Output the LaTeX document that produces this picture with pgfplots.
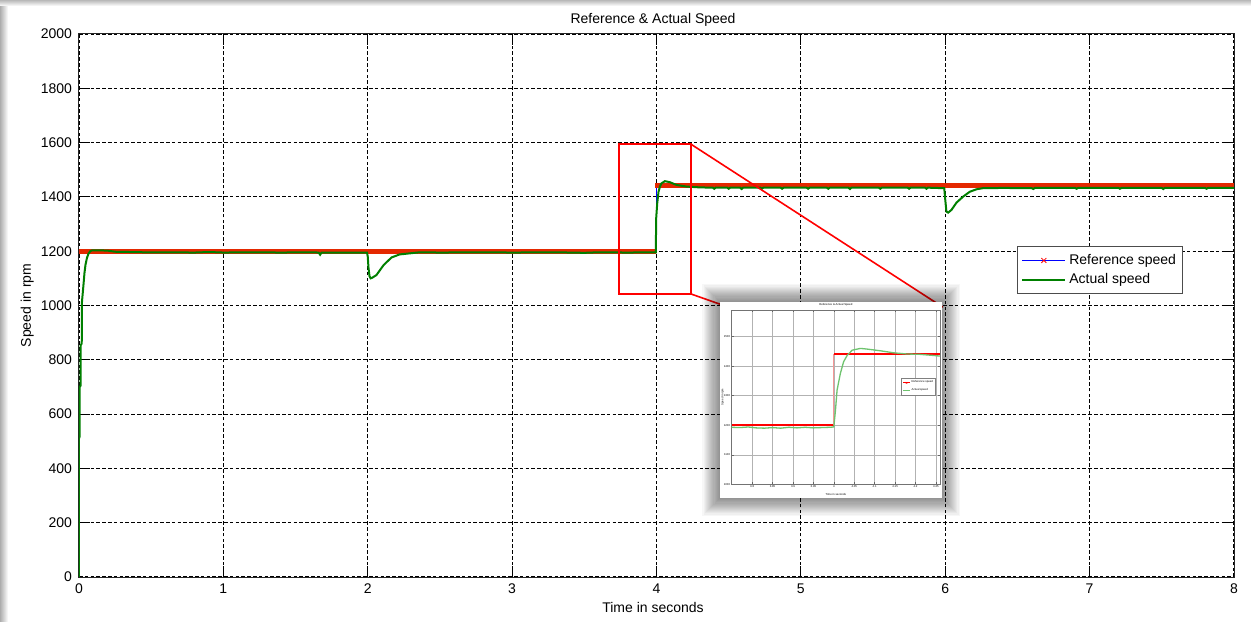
\documentclass[border=0pt]{standalone}
\usepackage{fontspec}
\setmainfont{Liberation Sans}
\usepackage{pgfplots}
\pgfplotsset{compat=1.18, every axis title shift=0pt}

\definecolor{mlgreen}{RGB}{0,128,0}
\definecolor{refband}{RGB}{228,40,0}
\definecolor{lightgreen}{RGB}{110,195,110}
\definecolor{lightred}{RGB}{245,150,150}

\newcommand{\mainfont}{\fontsize{7}{8.4}\selectfont}
\newcommand{\tinyfont}{\fontsize{1.4}{1.7}\selectfont}

\begin{document}
\begin{tikzpicture}
% figure window background, with a soft shadow along the top and left edges
\fill[white] (0,0) rectangle (625.5pt,310.5pt);
\shade[left color=black!32, right color=white] (0,0) rectangle (4pt,310.5pt);
\shade[top color=black!28, bottom color=white] (0,307.5pt) rectangle (625.5pt,310.5pt);

\begin{axis}[
  at={(39.5pt,22pt)}, anchor=south west,
  scale only axis, width=577.5pt, height=271.5pt,
  xmin=0, xmax=8, ymin=0, ymax=2000,
  xtick={0,1,...,8}, ytick={0,200,...,2000},
  tick align=inside, xtick pos=both, ytick pos=both,
  major tick length=5.5pt,
  tick style={black, line width=0.5pt},
  axis line style={black!85, line width=0.5pt},
  grid=major,
  major grid style={black, line width=0.55pt, dash pattern=on 1.8pt off 1.1pt},
  ticklabel style={font=\mainfont},
  /pgf/number format/assume math mode=true,
  /pgf/number format/1000 sep={},
  title={Reference \& Actual Speed},
  title style={font=\mainfont, at={(axis description cs:0.497,1.0193)}, anchor=base},
  xlabel={Time in seconds},
  xlabel style={font=\mainfont, at={(axis description cs:0.497,-0.0645)}, anchor=base},
  ylabel={Speed in rpm},
  ylabel style={font=\mainfont, at={(axis description cs:-0.0416,0.5)}, anchor=base},
  legend cell align=left,
  legend style={at={(axis description cs:0.812,0.6096)}, anchor=north west,
    draw=black!70, line width=0.5pt, fill=white, font=\mainfont,
    inner xsep=2pt, inner ysep=2.2pt, row sep=0pt, nodes={inner sep=1.5pt}},
]
% reference speed: blue line with dense red x markers (the markers form the thick band)
\addplot[blue, line width=0.5pt,
  legend image code/.code={
    \draw[blue, line width=0.6pt] (0pt,0pt) -- (21.5pt,0pt);
    \draw[red, line width=0.4pt] (9.5pt,-1.2pt) -- (12pt,1.2pt) (9.5pt,1.2pt) -- (12pt,-1.2pt);
  }] coordinates {(0,1200) (4,1200) (4,1440) (8,1440)};
\addlegendentry{Reference speed}
\addplot[refband, line width=2.6pt, forget plot] coordinates {(0,1200) (3.998,1200)};
\addplot[refband, line width=2.6pt, forget plot] coordinates {(3.99,1441) (8,1441)};

% measured rotor speed
\addplot[mlgreen, line width=1pt,
  legend image code/.code={
    \draw[mlgreen, line width=1pt] (0pt,0pt) -- (21.5pt,0pt);
  }] coordinates {
  (0,0) (0,510) (0.004,517) (0.005,700) (0.011,705) (0.012,854) (0.019,860)
  (0.02,1010) (0.03,1070) (0.038,1120) (0.045,1150) (0.055,1175) (0.065,1190)
  (0.078,1200) (0.09,1203) (0.15,1203) (0.2,1202) (0.25,1198) (0.35,1197)
  (0.45,1196) (0.6,1196) (0.8,1195) (0.9,1197) (1.0,1195) (1.2,1196) (1.4,1195)
  (1.6,1196) (1.66,1195) (1.67,1187) (1.68,1195) (1.9,1195) (1.995,1195)
  (2.0,1180) (2.005,1140) (2.012,1108) (2.02,1100) (2.03,1102) (2.06,1112)
  (2.11,1149) (2.165,1177) (2.22,1188) (2.29,1192) (2.36,1196) (2.5,1195)
  (2.8,1196) (3.0,1195) (3.3,1196) (3.5,1194) (3.6,1196) (3.8,1195) (3.996,1196)
  (3.997,1315) (4.005,1376) (4.014,1419) (4.025,1440) (4.035,1450) (4.058,1458)
  (4.093,1454) (4.139,1444) (4.208,1438) (4.3,1435) (4.39,1434) (4.40,1430)
  (4.41,1434) (4.49,1434) (4.50,1430) (4.51,1434) (4.58,1434) (4.59,1429)
  (4.60,1434) (4.72,1434) (4.73,1430) (4.74,1434) (4.86,1434) (4.87,1430)
  (4.88,1434) (5.04,1434) (5.05,1430) (5.06,1434) (5.18,1434) (5.19,1430)
  (5.20,1434) (5.33,1434) (5.34,1429) (5.35,1434) (5.54,1434) (5.55,1430)
  (5.56,1434) (5.74,1434) (5.75,1430) (5.76,1434) (5.86,1434) (5.87,1430)
  (5.88,1434) (5.993,1432) (6.0,1390) (6.008,1346) (6.02,1342) (6.043,1352)
  (6.078,1379) (6.124,1401) (6.17,1419) (6.216,1428) (6.26,1432) (6.4,1433)
  (6.6,1432) (6.61,1429) (6.62,1433) (6.9,1433) (6.91,1430) (6.92,1433)
  (7.2,1433) (7.21,1430) (7.22,1433) (7.5,1433) (7.51,1429) (7.52,1433)
  (7.8,1433) (7.81,1430) (7.82,1433) (8,1433)
};
\addlegendentry{Actual speed}

% zoom window around the step at t = 4 s and its guide lines
\draw[red, line width=1pt] (axis cs:3.737,1043) rectangle (axis cs:4.236,1595);
\draw[red, line width=0.8pt] (axis cs:4.236,1595) -- (axis cs:5.983,994);
\draw[red, line width=0.8pt] (axis cs:4.236,1043) -- (axis cs:4.439,1005);
\end{axis}

% inset: soft drop shadow and white card
\foreach \i in {1,...,16} {
  \fill[black, opacity=0.03] ({360pt-\i*0.55pt},{61.5pt-\i*0.55pt}) rectangle ({471pt+\i*0.55pt},{159.5pt+\i*0.55pt});
}
\fill[white] (360pt,61.5pt) rectangle (471pt,159.5pt);

\begin{axis}[
  at={(365.85pt,68.35pt)}, anchor=south west,
  scale only axis, width=104.15pt, height=87.15pt,
  xmin=3.75, xmax=4.26, ymin=1000, ymax=1590,
  xtick={3.8,3.85,3.9,3.95,4,4.05,4.1,4.15,4.2,4.25},
  ytick={1000,1100,1200,1300,1400,1500},
  xticklabels={3.8,3.85,3.9,3.95,4,4.05,4.1,4.15,4.2,4.25},
  tick align=inside, xtick pos=both, ytick pos=both,
  major tick length=1pt,
  tick style={black!60, line width=0.2pt},
  axis line style={black!55, line width=0.3pt},
  grid=major,
  major grid style={black!30, line width=0.25pt},
  ticklabel style={font=\tinyfont, inner sep=0.6pt},
  /pgf/number format/assume math mode=true,
  /pgf/number format/1000 sep={},
  title={Reference \& Actual Speed},
  title style={font=\tinyfont, at={(axis description cs:0.5,1.029)}, anchor=center},
  xlabel={Time in seconds},
  xlabel style={font=\tinyfont, at={(axis description cs:0.5,-0.061)}, anchor=center},
  ylabel={Speed in rpm},
  ylabel style={font=\tinyfont, at={(axis description cs:-0.043,0.5)}, anchor=center},
  legend cell align=left,
  legend style={at={(axis description cs:0.813,0.61)}, anchor=north west,
    draw=black!50, line width=0.2pt, fill=white, font=\tinyfont,
    inner xsep=0.6pt, inner ysep=0.6pt, row sep=0.3pt, nodes={inner sep=0.5pt}},
]
\addplot[red, line width=0.9pt,
  legend image code/.code={
    \draw[red, line width=0.6pt] (0pt,0pt) -- (3.5pt,0pt);
    \draw[red, line width=0.2pt] (1.4pt,-0.4pt) -- (2.1pt,0.4pt) (1.4pt,0.4pt) -- (2.1pt,-0.4pt);
  }] coordinates {(3.75,1200) (4,1200)};
\addlegendentry{Reference speed}
\addplot[lightred, line width=0.4pt, forget plot] coordinates {(4,1200) (4,1440)};
\addplot[red, line width=0.9pt, forget plot] coordinates {(4,1440) (4.26,1440)};
\addplot[lightgreen, line width=0.65pt,
  legend image code/.code={
    \draw[lightgreen, line width=0.6pt] (0pt,0pt) -- (3.5pt,0pt);
  }] coordinates {
  (3.75,1193) (3.77,1192) (3.79,1194) (3.81,1191) (3.83,1190) (3.85,1192)
  (3.87,1190) (3.89,1193) (3.91,1191) (3.93,1193) (3.95,1191) (3.97,1192)
  (3.99,1193) (4.0,1194) (4.004,1250) (4.008,1319) (4.016,1375) (4.024,1415)
  (4.033,1437) (4.045,1454) (4.065,1460) (4.08,1458) (4.114,1452) (4.147,1445)
  (4.18,1441) (4.21,1440) (4.245,1436) (4.26,1434)
};
\addlegendentry{Actual speed}
\end{axis}
\end{tikzpicture}
\end{document}
